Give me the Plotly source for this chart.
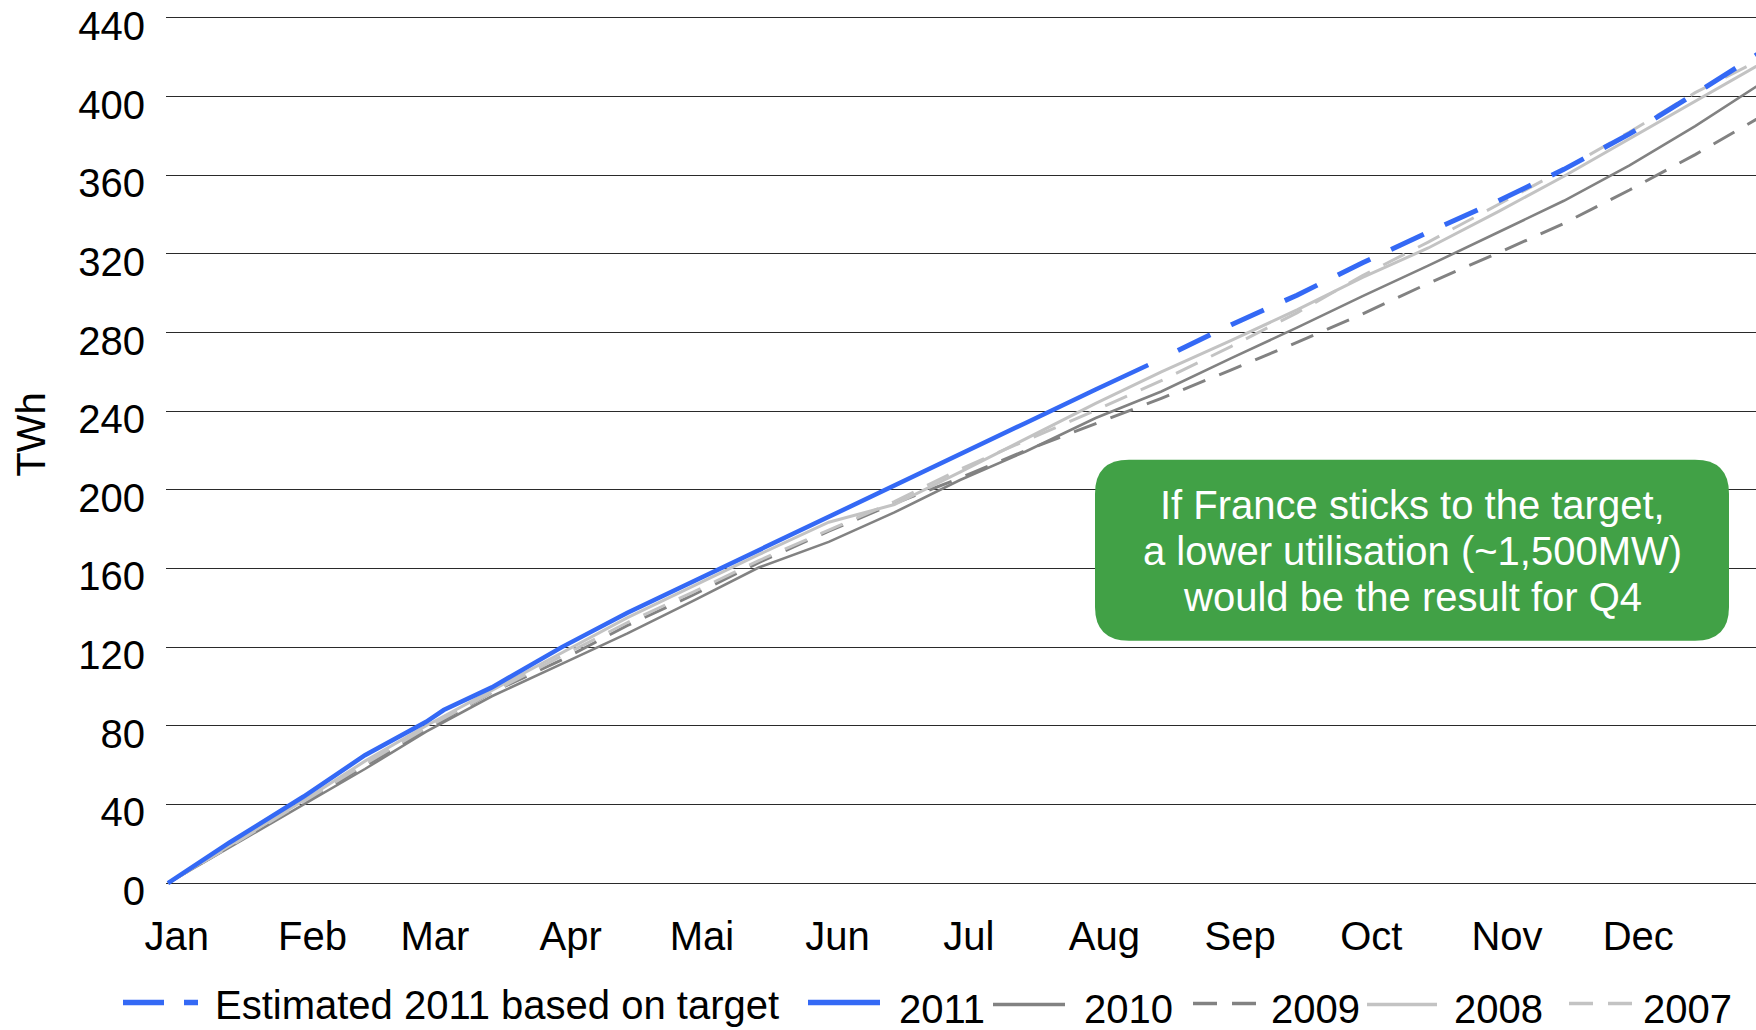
import plotly.graph_objects as go

# ---- data: cumulative nuclear generation, TWh, by day of year ----
month_names = ["Jan", "Feb", "Mar", "Apr", "Mai", "Jun", "Jul", "Aug", "Sep", "Oct", "Nov", "Dec"]
month_start = [0, 31, 59, 90, 120, 151, 181, 212, 243, 273, 304, 334]
y_ticks = [0, 40, 80, 120, 160, 200, 240, 280, 320, 360, 400, 440]

days = [0, 14, 31, 45, 59, 74, 90, 105, 120, 135, 151, 166, 181,
        196, 212, 227, 243, 258, 273, 288, 304, 319, 334, 349, 365]

twh_2010 = [0, 18, 40, 58, 77, 95, 111.5, 127, 143.5, 160.5, 173.5, 188.5, 205,
            219.5, 236.5, 250, 267, 282.5, 298.5, 314, 331, 347, 365, 385, 408]
twh_2009 = [0, 18.5, 41, 59.5, 78, 97, 113.5, 131, 146.5, 163, 179, 193, 206,
            220, 233.5, 246.5, 261, 275, 289.5, 305, 320.5, 335.5, 352.5, 370.5, 391]
twh_2008 = [0, 19, 42, 62, 80, 98, 117, 135, 151, 167, 183.5, 192.5, 209,
            226, 244, 260, 276, 291.5, 308, 323, 341.5, 359.5, 378.5, 397.5, 418]
twh_2007 = [0, 18.5, 41.5, 60.5, 79, 97, 115.5, 132.5, 148, 164, 179.5, 194, 210.5,
            225, 240.5, 255.5, 273, 290, 309, 326, 345, 363, 382, 402, 420]

days_2011 = [0, 14, 31, 45, 59, 63, 74, 90, 105, 120, 135, 151, 166, 181, 196, 212, 224]
twh_2011 = [0, 20.5, 44, 65, 82, 88, 99.5, 120, 137.5, 153.5, 169.5, 186, 202,
            218, 234, 251, 263.5]

days_est = [224, 243, 258, 273, 288, 304, 319, 334, 349, 365]
twh_est = [263.5, 284, 299, 315.5, 331, 347, 363, 381, 401.5, 424]

# ---- styling ----
FONT = "Liberation Sans, Arial, Helvetica, sans-serif"
BLUE = "#3469f5"
DARK = "#828282"
LIGHT = "#c3c3c3"
GREEN = "#41a146"

W, H = 1756, 1030
Y_MIN, Y_MAX = -1, 442
M_L, M_R, M_T, M_B = 166, 0, 13.9, 144.5
PW, PH = W - M_L - M_R, H - M_T - M_B


def px(x):
    return (x - M_L) / PW


def py(y):
    return (H - M_B - y) / PH


# projection dashes start after a short gap following the actual 2011 line
est_dash = "0px,33px," + ",".join(["36px,23px"] * 14)

fig = go.Figure()

series = [
    ("2010", days, twh_2010, DARK, 2.6, "solid"),
    ("2009", days, twh_2009, DARK, 3, "24px,15px"),
    ("2008", days, twh_2008, LIGHT, 3, "solid"),
    ("2007", days, twh_2007, LIGHT, 3, "24px,15px"),
    ("Estimated 2011 based on target", days_est, twh_est, BLUE, 5, est_dash),
    ("2011", days_2011, twh_2011, BLUE, 4.5, "solid"),
]
for name, xs, ys, color, width, dash in series:
    fig.add_trace(go.Scatter(
        x=xs, y=ys, mode="lines", name=name, showlegend=False,
        line=dict(color=color, width=width, dash=dash),
    ))

# ---- legend row along the bottom ----
legend_items = [
    # text, colour, width, dash, line x0, line x1, text x, line y, text y
    ("Estimated 2011 based on target", BLUE, 5.5, "41px,20px", 123, 198, 213, 1003, 1006),
    ("2011", BLUE, 5.5, "solid", 808, 880, 897, 1003, 1010),
    ("2010", DARK, 3.5, "solid", 993, 1065, 1082, 1005, 1010),
    ("2009", DARK, 3.5, "24px,15px", 1193, 1258, 1269, 1004, 1010),
    ("2008", LIGHT, 3.5, "solid", 1367, 1437, 1452, 1005, 1010),
    ("2007", LIGHT, 3.5, "24px,15px", 1569, 1634, 1641, 1004, 1010),
]
shapes = []
annotations = []
for text, color, width, dash, x0, x1, tx, ly, ty in legend_items:
    shapes.append(dict(
        type="line", xref="paper", yref="paper",
        x0=px(x0), x1=px(x1), y0=py(ly), y1=py(ly),
        line=dict(color=color, width=width, dash=dash),
    ))
    annotations.append(dict(
        text=text, xref="paper", yref="paper", x=px(tx), y=py(ty),
        xanchor="left", yanchor="middle", showarrow=False,
        font=dict(family=FONT, size=40, color="black"),
    ))


# ---- rounded green callout ----
def rounded_rect(x0, y0, x1, y1, r):
    rx, ry = r / PW, r / PH
    a, b = px(x0), px(x1)
    top, bot = py(y0), py(y1)
    return (
        f"M {a + rx},{top} L {b - rx},{top} Q {b},{top} {b},{top - ry} "
        f"L {b},{bot + ry} Q {b},{bot} {b - rx},{bot} "
        f"L {a + rx},{bot} Q {a},{bot} {a},{bot + ry} "
        f"L {a},{top - ry} Q {a},{top} {a + rx},{top} Z"
    )


shapes.append(dict(
    type="path", xref="paper", yref="paper", layer="above",
    path=rounded_rect(1095, 460, 1729, 641, 34),
    fillcolor=GREEN, line=dict(width=0),
))
callout_lines = [
    ("If France sticks to the target,", 505),
    ("a lower utilisation (~1,500MW)", 551),
    ("would be the result for Q4", 597),
]
for line, yc in callout_lines:
    annotations.append(dict(
        text=line, xref="paper", yref="paper", x=px(1412), y=py(yc),
        xanchor="center", yanchor="middle", showarrow=False,
        font=dict(family=FONT, size=40, color="white"),
    ))

# axis title
annotations.append(dict(
    text="TWh", xref="paper", yref="paper", x=px(31), y=py(435),
    xanchor="center", yanchor="middle", showarrow=False, textangle=-90,
    font=dict(family=FONT, size=40, color="black"),
))

fig.update_layout(
    width=W, height=H,
    margin=dict(l=M_L, r=M_R, t=M_T, b=M_B, pad=0),
    paper_bgcolor="white", plot_bgcolor="white",
    font=dict(family=FONT, size=40, color="black"),
    shapes=shapes, annotations=annotations,
    showlegend=False,
)
fig.update_xaxes(
    range=[-0.46, 362.9],
    tickmode="array",
    tickvals=[d + 2 for d in month_start],
    ticktext=month_names,
    showgrid=False, zeroline=False, showline=False, ticks="",
    tickfont=dict(family=FONT, size=40, color="black"),
    ticklabelstandoff=24,
)
fig.update_yaxes(
    range=[Y_MIN, Y_MAX],
    tickmode="array", tickvals=y_ticks,
    showgrid=True, gridcolor="#2a2a2a", gridwidth=1.4,
    zeroline=False, showline=False, ticks="",
    tickfont=dict(family=FONT, size=40, color="black"),
    ticklabelstandoff=20, ticklabelshift=8,
)

fig.write_html("out.html")
